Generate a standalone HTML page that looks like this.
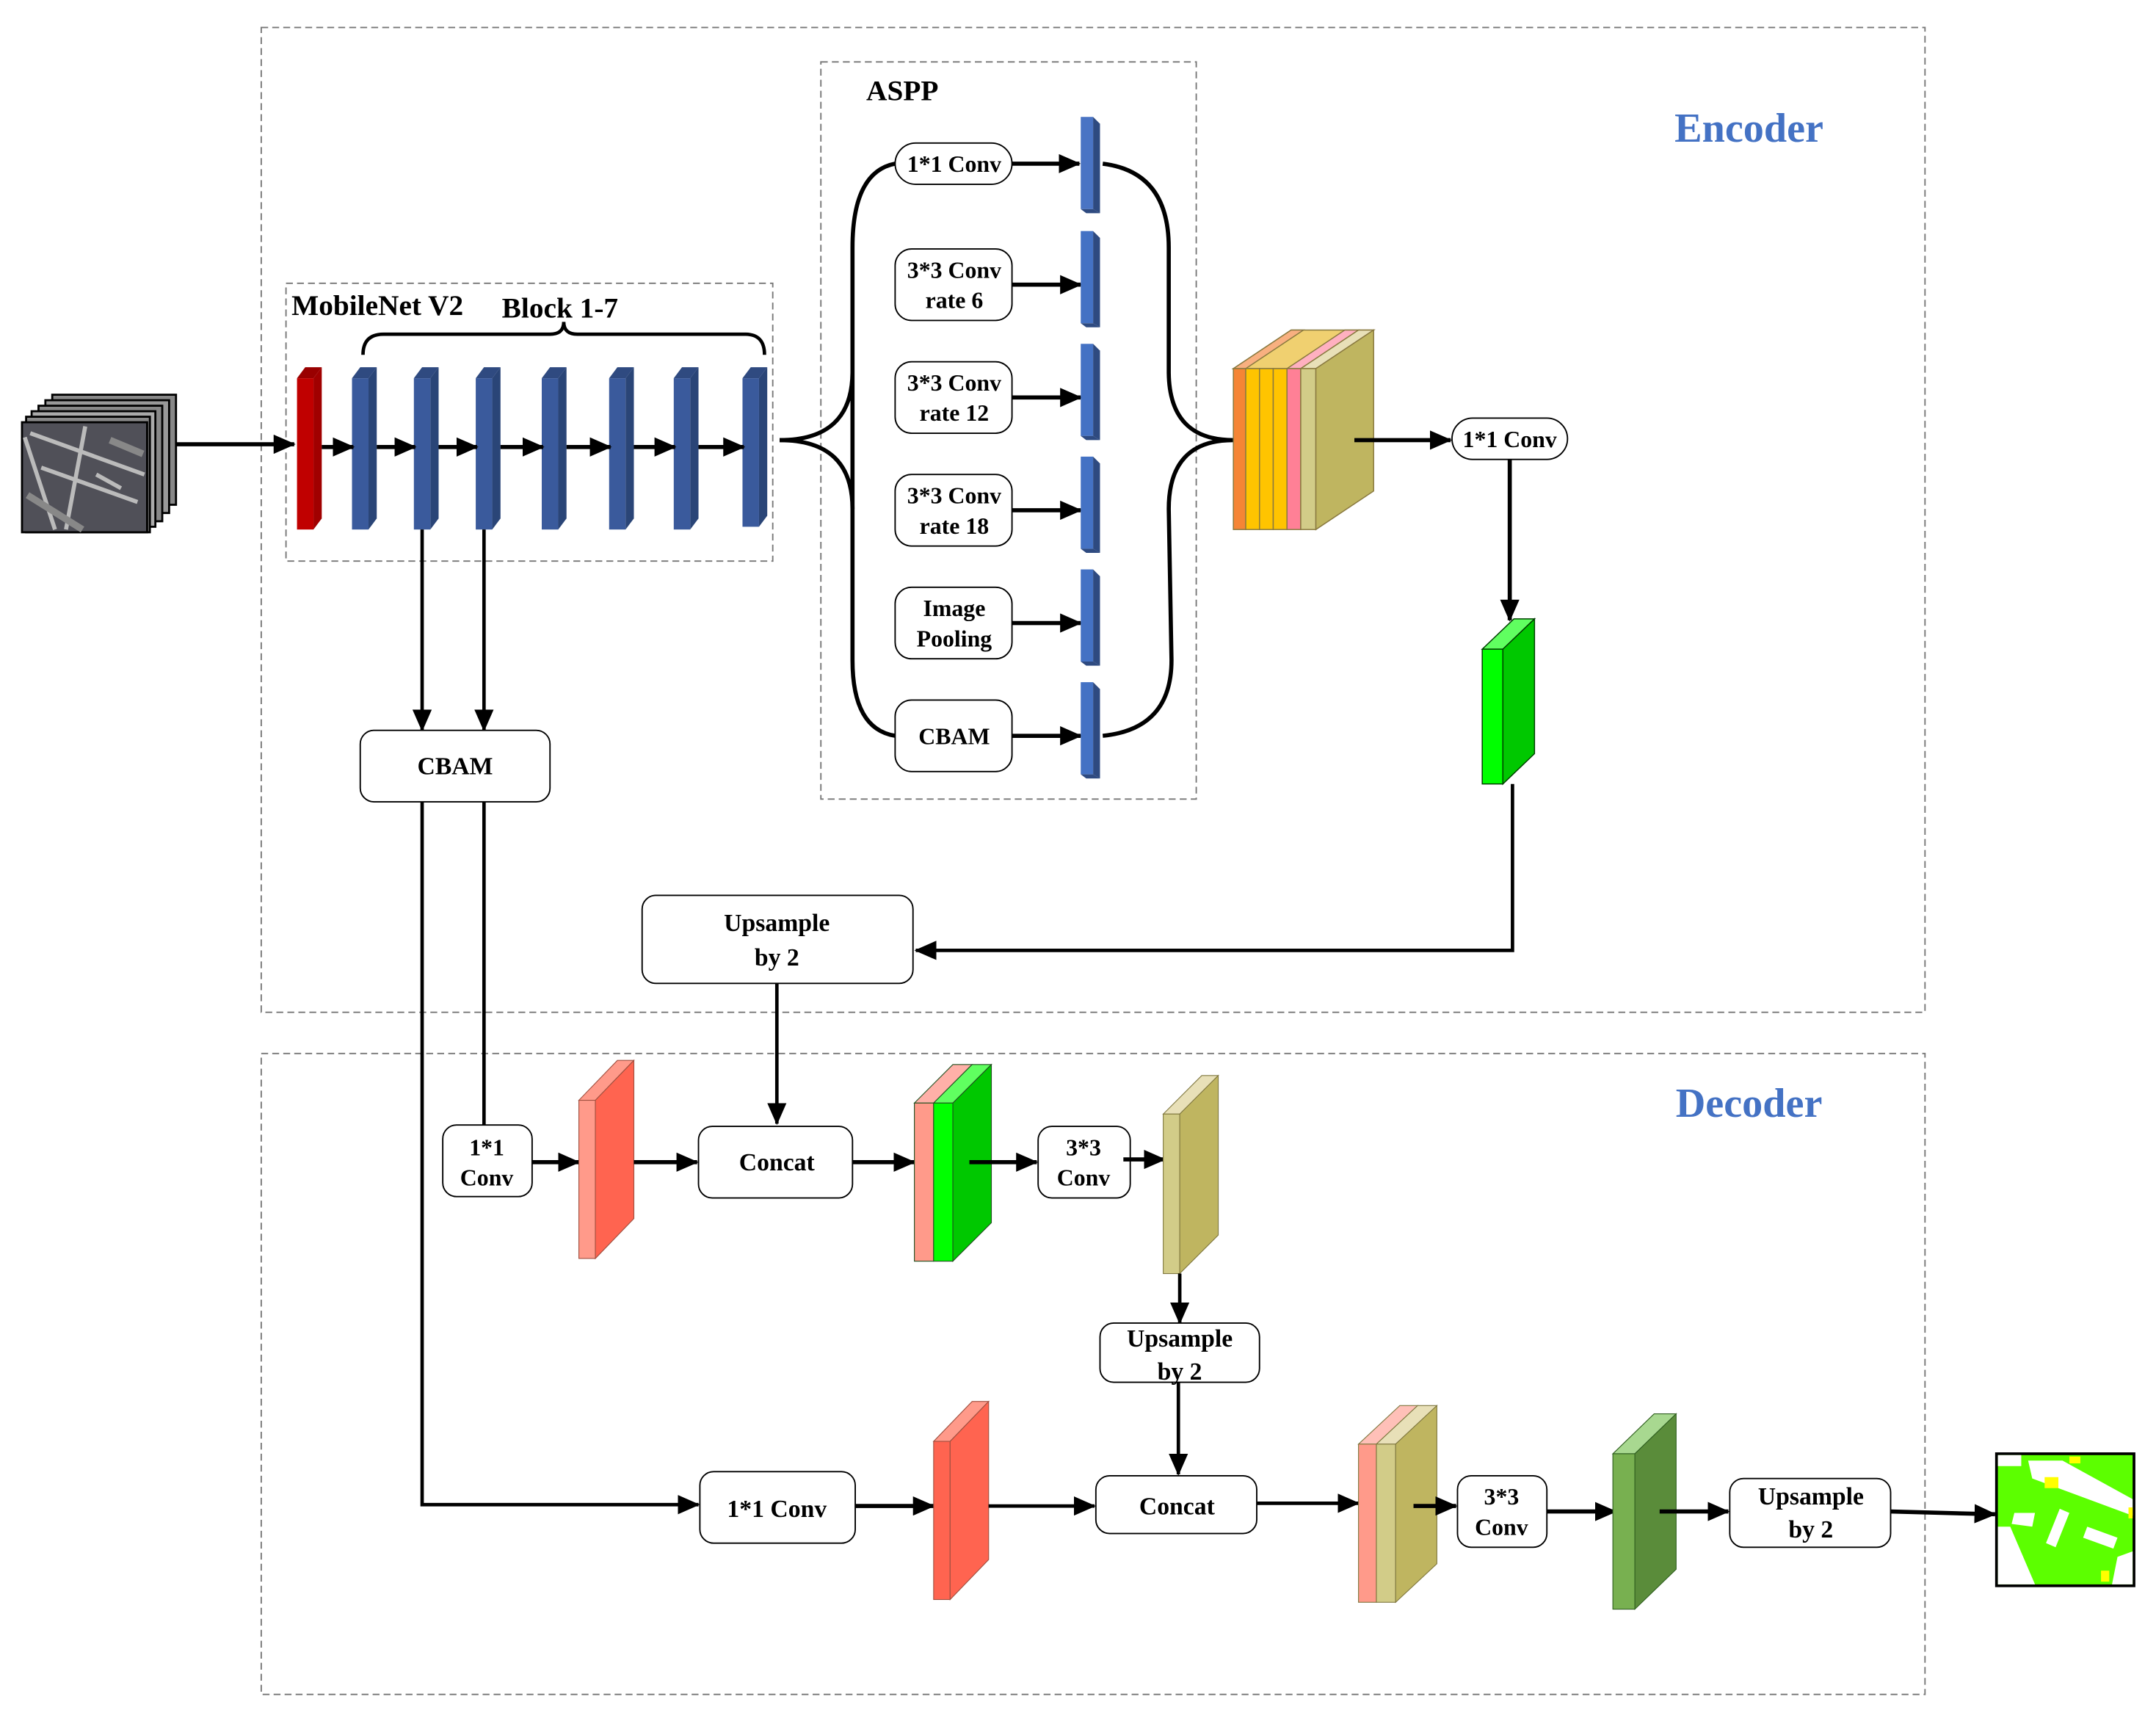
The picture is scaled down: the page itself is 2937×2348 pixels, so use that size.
<!DOCTYPE html>
<html><head><meta charset="utf-8"><style>
html,body{margin:0;padding:0;background:#fff}
svg{display:block}
text{font-family:"Liberation Serif",serif;font-weight:bold;fill:#000}
</style></head><body>
<svg width="2937" height="2348" viewBox="0 0 1568 1253.5" preserveAspectRatio="none" xmlns="http://www.w3.org/2000/svg">
<defs>
<marker id="a" markerUnits="userSpaceOnUse" markerWidth="16" markerHeight="14" refX="15" refY="7" orient="auto"><path d="M0,0 L16,7 L0,14 Z" fill="#000"/></marker>
</defs>
<rect width="1568" height="1254" fill="#fff"/>
<g fill="none" stroke="#777" stroke-width="1" stroke-dasharray="5,3">
<rect x="190" y="20" width="1210" height="716"/>
<rect x="190" y="766" width="1210" height="466"/>
<rect x="597" y="45" width="273" height="536"/>
<rect x="208" y="206" width="354" height="202"/>
</g>
<text x="1272" y="103" font-size="30" text-anchor="middle" style="fill:#4472c4">Encoder</text>
<text x="1272" y="812" font-size="30" text-anchor="middle" style="fill:#4472c4">Decoder</text>
<text x="630" y="73" font-size="21">ASPP</text>
<text x="212" y="229" font-size="21">MobileNet V2</text>
<text x="365" y="231" font-size="21">Block 1-7</text>
<path d="M264,258 Q264,243 279,243 L400,243 Q410,243 410,234 Q410,243 420,243 L542,243 Q556,243 556,258" fill="none" stroke="#000" stroke-width="2.5"/>
<g stroke="#000" stroke-width="1.5">
<rect x="38" y="287" width="90" height="80" fill="#888"/>
<rect x="33" y="291" width="90" height="82" fill="#999"/>
<rect x="28" y="295" width="90" height="84" fill="#888"/>
<rect x="23" y="299" width="90" height="84" fill="#aaa"/>
<rect x="19" y="303" width="90" height="84" fill="#888"/>
<rect x="16" y="307" width="91" height="80" fill="#505058"/>
</g>
<path d="M18,318 L40,385 M62,310 L48,385 M22,315 L105,345 M30,340 L100,365 M70,345 L88,355" stroke="#bbb" stroke-width="3" fill="none"/>
<path d="M20,360 L60,385 M80,320 L104,330" stroke="#888" stroke-width="5" fill="none"/>
<line x1="128" y1="323" x2="214" y2="323" stroke="#000" stroke-width="3" marker-end="url(#a)"/>
<polygon points="216,275 222,267 234,267 228,275" fill="#990000"/>
<rect x="216" y="275" width="12" height="110" fill="#c00000"/>
<polygon points="228,275 234,267 234,377 228,385" fill="#a00000"/>
<g>
<polygon points="256,275 262,267 274,267 268,275" fill="#2f4a80"/><rect x="256" y="275" width="12" height="110" fill="#3a5a9c"/><polygon points="268,275 274,267 274,377 268,385" fill="#2a4577"/>
<polygon points="301,275 307,267 319,267 313,275" fill="#2f4a80"/><rect x="301" y="275" width="12" height="110" fill="#3a5a9c"/><polygon points="313,275 319,267 319,377 313,385" fill="#2a4577"/>
<polygon points="346,275 352,267 364,267 358,275" fill="#2f4a80"/><rect x="346" y="275" width="12" height="110" fill="#3a5a9c"/><polygon points="358,275 364,267 364,377 358,385" fill="#2a4577"/>
<polygon points="394,275 400,267 412,267 406,275" fill="#2f4a80"/><rect x="394" y="275" width="12" height="110" fill="#3a5a9c"/><polygon points="406,275 412,267 412,377 406,385" fill="#2a4577"/>
<polygon points="443,275 449,267 461,267 455,275" fill="#2f4a80"/><rect x="443" y="275" width="12" height="110" fill="#3a5a9c"/><polygon points="455,275 461,267 461,377 455,385" fill="#2a4577"/>
<polygon points="490,275 496,267 508,267 502,275" fill="#2f4a80"/><rect x="490" y="275" width="12" height="110" fill="#3a5a9c"/><polygon points="502,275 508,267 508,377 502,385" fill="#2a4577"/>
<polygon points="540,275 546,267 558,267 552,275" fill="#2f4a80"/><rect x="540" y="275" width="12" height="108" fill="#3a5a9c"/><polygon points="552,275 558,267 558,375 552,383" fill="#2a4577"/>
</g>
<g stroke="#000" stroke-width="3" marker-end="url(#a)">
<line x1="234" y1="325" x2="257" y2="325"/>
<line x1="274" y1="325" x2="302" y2="325"/>
<line x1="319" y1="325" x2="347" y2="325"/>
<line x1="364" y1="325" x2="395" y2="325"/>
<line x1="412" y1="325" x2="444" y2="325"/>
<line x1="461" y1="325" x2="491" y2="325"/>
<line x1="508" y1="325" x2="541" y2="325"/>
</g>
<path d="M567,320 Q620,320 620,270 L620,180 Q620,125 651,119 M620,270 L620,370 Q620,320 620,370 L620,480 Q620,530 651,535" fill="none" stroke="#000" stroke-width="3"/>
<path d="M567,320 Q620,320 620,370" fill="none" stroke="#000" stroke-width="3"/>
<path d="M802,119 Q850,125 850,180 L850,270 Q850,320 897,320 M897,320 Q850,320 850,370 L852,480 Q852,530 802,535" fill="none" stroke="#000" stroke-width="3"/>
<g fill="#fff" stroke="#000" stroke-width="1">
<rect x="651" y="104" width="85" height="30" rx="15"/>
<rect x="651" y="181" width="85" height="52" rx="12"/>
<rect x="651" y="263" width="85" height="52" rx="12"/>
<rect x="651" y="345" width="85" height="52" rx="12"/>
<rect x="651" y="427" width="85" height="52" rx="12"/>
<rect x="651" y="509" width="85" height="52" rx="12"/>
</g>
<g font-size="17" text-anchor="middle">
<text x="694" y="125">1*1 Conv</text>
<text x="694" y="202">3*3 Conv</text><text x="694" y="224">rate 6</text>
<text x="694" y="284">3*3 Conv</text><text x="694" y="306">rate 12</text>
<text x="694" y="366">3*3 Conv</text><text x="694" y="388">rate 18</text>
<text x="694" y="448">Image</text><text x="694" y="470">Pooling</text>
<text x="694" y="541">CBAM</text>
</g>
<g stroke="#000" stroke-width="3" marker-end="url(#a)">
<line x1="736" y1="119" x2="785" y2="119"/>
<line x1="736" y1="207" x2="786" y2="207"/>
<line x1="736" y1="289" x2="786" y2="289"/>
<line x1="736" y1="371" x2="786" y2="371"/>
<line x1="736" y1="453" x2="786" y2="453"/>
<line x1="736" y1="535" x2="786" y2="535"/>
</g>
<g>
<rect x="786" y="85" width="9" height="67" fill="#4a74c4"/><polygon points="795,85 800,90 800,155 795,152" fill="#2e4a80"/><polygon points="786,152 795,152 800,155 790,155" fill="#2e4a80"/>
<rect x="786" y="168" width="9" height="67" fill="#4472c4"/><polygon points="795,168 800,173 800,238 795,235" fill="#2e4a80"/><polygon points="786,235 795,235 800,238 790,238" fill="#2e4a80"/>
<rect x="786" y="250" width="9" height="67" fill="#4472c4"/><polygon points="795,250 800,255 800,320 795,317" fill="#2e4a80"/><polygon points="786,317 795,317 800,320 790,320" fill="#2e4a80"/>
<rect x="786" y="332" width="9" height="67" fill="#4472c4"/><polygon points="795,332 800,337 800,402 795,399" fill="#2e4a80"/><polygon points="786,399 795,399 800,402 790,402" fill="#2e4a80"/>
<rect x="786" y="414" width="9" height="67" fill="#4472c4"/><polygon points="795,414 800,419 800,484 795,481" fill="#2e4a80"/><polygon points="786,481 795,481 800,484 790,484" fill="#2e4a80"/>
<rect x="786" y="496" width="9" height="67" fill="#4472c4"/><polygon points="795,496 800,501 800,566 795,563" fill="#2e4a80"/><polygon points="786,563 795,563 800,566 790,566" fill="#2e4a80"/>
</g>
<g stroke="#8a7a40" stroke-width="0.8">
<polygon points="897,268 939,240 999,240 957,268" fill="#f0d070"/>
<polygon points="897,268 939,240 948,240 906,268" fill="#f8b080"/>
<polygon points="936,268 978,240 988,240 946,268" fill="#ffb0c0"/>
<polygon points="946,268 988,240 999,240 957,268" fill="#e8e0b8"/>
<rect x="897" y="268" width="9" height="117" fill="#f58535"/>
<rect x="906" y="268" width="10" height="117" fill="#ffc400"/>
<rect x="916" y="268" width="10" height="117" fill="#ffc400"/>
<rect x="926" y="268" width="10" height="117" fill="#ffc400"/>
<rect x="936" y="268" width="10" height="117" fill="#ff8096"/>
<rect x="946" y="268" width="11" height="117" fill="#d2cc88"/>
<polygon points="957,268 999,240 999,357 957,385" fill="#bfb560"/>
</g>
<line x1="985" y1="320" x2="1055" y2="320" stroke="#000" stroke-width="3" marker-end="url(#a)"/>
<rect x="1056" y="304" width="84" height="30" rx="15" fill="#fff" stroke="#000"/>
<text x="1098" y="325" font-size="17" text-anchor="middle">1*1 Conv</text>
<line x1="1098" y1="334" x2="1098" y2="451" stroke="#000" stroke-width="3" marker-end="url(#a)"/>
<g stroke="#004000" stroke-width="0.8">
<polygon points="1078,472 1093,472 1116,450 1101,450" fill="#60ff60"/>
<rect x="1078" y="472" width="15" height="98" fill="#00ff00"/>
<polygon points="1093,472 1116,450 1116,548 1093,570" fill="#00c800"/>
</g>
<polyline points="1100,570 1100,691 666,691" fill="none" stroke="#000" stroke-width="2.5" marker-end="url(#a)"/>
<rect x="467" y="651" width="197" height="64" rx="10" fill="#fff" stroke="#000"/>
<text x="565" y="677" font-size="18" text-anchor="middle">Upsample</text>
<text x="565" y="702" font-size="18" text-anchor="middle">by 2</text>
<g stroke="#000" stroke-width="2.5" fill="none">
<line x1="307" y1="385" x2="307" y2="531" marker-end="url(#a)"/>
<line x1="352" y1="385" x2="352" y2="531" marker-end="url(#a)"/>
</g>
<rect x="262" y="531" width="138" height="52" rx="10" fill="#fff" stroke="#000"/>
<text x="331" y="563" font-size="18" text-anchor="middle">CBAM</text>
<polyline points="307,583 307,1094 508,1094" fill="none" stroke="#000" stroke-width="2.5" marker-end="url(#a)"/>
<line x1="352" y1="583" x2="352" y2="820" stroke="#000" stroke-width="2.5"/>
<line x1="565" y1="715" x2="565" y2="817" stroke="#000" stroke-width="2.5" marker-end="url(#a)"/>
<rect x="322" y="818" width="65" height="52" rx="10" fill="#fff" stroke="#000"/>
<text x="354" y="840" font-size="17" text-anchor="middle">1*1</text>
<text x="354" y="862" font-size="17" text-anchor="middle">Conv</text>
<line x1="387" y1="845" x2="421" y2="845" stroke="#000" stroke-width="3" marker-end="url(#a)"/>
<g stroke="#a05040" stroke-width="0.6">
<polygon points="421,800 433,800 461,771 449,771" fill="#ff9a8a"/>
<rect x="421" y="800" width="12" height="115" fill="#ff9a8a"/>
<polygon points="433,800 461,771 461,886 433,915" fill="#ff6450"/>
</g>
<line x1="461" y1="845" x2="507" y2="845" stroke="#000" stroke-width="3" marker-end="url(#a)"/>
<rect x="508" y="819" width="112" height="52" rx="10" fill="#fff" stroke="#000"/>
<text x="565" y="851" font-size="18" text-anchor="middle">Concat</text>
<line x1="620" y1="845" x2="665" y2="845" stroke="#000" stroke-width="3" marker-end="url(#a)"/>
<g stroke="#205020" stroke-width="0.6">
<polygon points="665,802 679,802 707,774 693,774" fill="#ffb0a8"/>
<polygon points="679,802 693,802 721,774 707,774" fill="#60ff60"/>
<rect x="665" y="802" width="14" height="115" fill="#ff9a8a"/>
<rect x="679" y="802" width="14" height="115" fill="#00ff00"/>
<polygon points="693,802 721,774 721,889 693,917" fill="#00c800"/>
</g>
<line x1="705" y1="845" x2="754" y2="845" stroke="#000" stroke-width="3" marker-end="url(#a)"/>
<rect x="755" y="819" width="67" height="52" rx="10" fill="#fff" stroke="#000"/>
<text x="788" y="840" font-size="17" text-anchor="middle">3*3</text>
<text x="788" y="862" font-size="17" text-anchor="middle">Conv</text>
<line x1="817" y1="843" x2="847" y2="843" stroke="#000" stroke-width="3" marker-end="url(#a)"/>
<g stroke="#807840" stroke-width="0.6">
<polygon points="846,810 858,810 886,782 874,782" fill="#e8e0b8"/>
<rect x="846" y="810" width="12" height="116" fill="#d2cc88"/>
<polygon points="858,810 886,782 886,898 858,926" fill="#bfb560"/>
</g>
<line x1="858" y1="926" x2="858" y2="962" stroke="#000" stroke-width="2.5" marker-end="url(#a)"/>
<rect x="800" y="962" width="116" height="43" rx="10" fill="#fff" stroke="#000"/>
<text x="858" y="979" font-size="18" text-anchor="middle">Upsample</text>
<text x="858" y="1003" font-size="18" text-anchor="middle">by 2</text>
<line x1="857" y1="1005" x2="857" y2="1072" stroke="#000" stroke-width="2.5" marker-end="url(#a)"/>
<rect x="509" y="1070" width="113" height="52" rx="10" fill="#fff" stroke="#000"/>
<text x="565" y="1103" font-size="18" text-anchor="middle">1*1 Conv</text>
<line x1="622" y1="1095" x2="679" y2="1095" stroke="#000" stroke-width="3" marker-end="url(#a)"/>
<g stroke="#a05040" stroke-width="0.6">
<polygon points="679,1048 691,1048 719,1019 707,1019" fill="#ff9a8a"/>
<rect x="679" y="1048" width="12" height="115" fill="#ff6450"/>
<polygon points="691,1048 719,1019 719,1134 691,1163" fill="#ff6450"/>
</g>
<line x1="719" y1="1095" x2="796" y2="1095" stroke="#000" stroke-width="2.5" marker-end="url(#a)"/>
<rect x="797" y="1073" width="117" height="42" rx="10" fill="#fff" stroke="#000"/>
<text x="856" y="1101" font-size="18" text-anchor="middle">Concat</text>
<line x1="914" y1="1093" x2="988" y2="1093" stroke="#000" stroke-width="2.5" marker-end="url(#a)"/>
<g stroke="#807840" stroke-width="0.6">
<polygon points="988,1050 1001,1050 1031,1022 1018,1022" fill="#ffc0b8"/>
<polygon points="1001,1050 1015,1050 1045,1022 1031,1022" fill="#e8e0b8"/>
<rect x="988" y="1050" width="13" height="115" fill="#ff9a8a"/>
<rect x="1001" y="1050" width="14" height="115" fill="#d2cc88"/>
<polygon points="1015,1050 1045,1022 1045,1137 1015,1165" fill="#bfb560"/>
</g>
<line x1="1028" y1="1095" x2="1059" y2="1095" stroke="#000" stroke-width="3" marker-end="url(#a)"/>
<rect x="1060" y="1073" width="65" height="52" rx="10" fill="#fff" stroke="#000"/>
<text x="1092" y="1094" font-size="17" text-anchor="middle">3*3</text>
<text x="1092" y="1116" font-size="17" text-anchor="middle">Conv</text>
<line x1="1125" y1="1099" x2="1175" y2="1099" stroke="#000" stroke-width="3" marker-end="url(#a)"/>
<g stroke="#306020" stroke-width="0.6">
<polygon points="1173,1057 1189,1057 1219,1028 1203,1028" fill="#a8d890"/>
<rect x="1173" y="1057" width="16" height="113" fill="#78b050"/>
<polygon points="1189,1057 1219,1028 1219,1141 1189,1170" fill="#5a8c3a"/>
</g>
<line x1="1207" y1="1099" x2="1257" y2="1099" stroke="#000" stroke-width="3" marker-end="url(#a)"/>
<rect x="1258" y="1075" width="117" height="50" rx="10" fill="#fff" stroke="#000"/>
<text x="1317" y="1094" font-size="18" text-anchor="middle">Upsample</text>
<text x="1317" y="1118" font-size="18" text-anchor="middle">by 2</text>
<line x1="1375" y1="1099" x2="1451" y2="1101" stroke="#000" stroke-width="3" marker-end="url(#a)"/>
<rect x="1452" y="1057" width="100" height="96" fill="#5cff00" stroke="#000" stroke-width="2"/>
<g fill="#fff">
<polygon points="1453,1058 1470,1058 1470,1066 1453,1066"/>
<polygon points="1475,1062 1500,1062 1551,1090 1551,1102 1478,1075"/>
<polygon points="1453,1110 1462,1110 1480,1152 1453,1152"/>
<polygon points="1498,1097 1505,1100 1495,1125 1488,1122"/>
<polygon points="1518,1110 1540,1118 1537,1126 1515,1118"/>
<polygon points="1540,1132 1551,1128 1551,1152 1536,1152"/>
<polygon points="1465,1100 1480,1100 1478,1110 1463,1108"/>
</g>
<g fill="#ffff00">
<rect x="1487" y="1074" width="10" height="8"/><rect x="1505" y="1059" width="8" height="5"/><rect x="1528" y="1142" width="6" height="8"/><rect x="1548" y="1096" width="3" height="8"/>
</g>
</svg>
</body></html>
